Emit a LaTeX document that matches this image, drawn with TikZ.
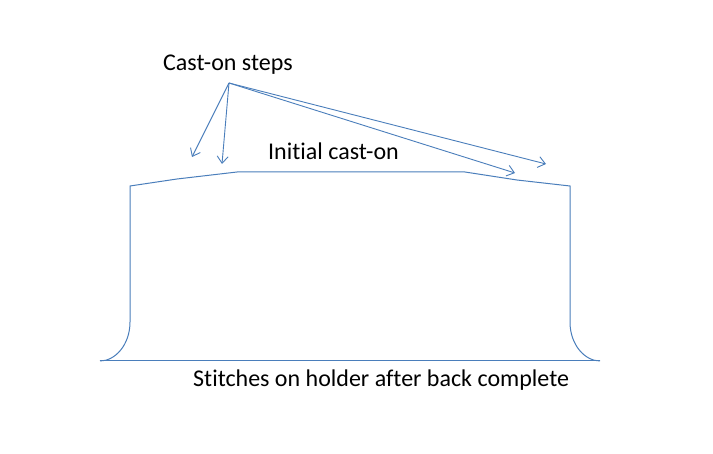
\documentclass[tikz,border=0pt]{standalone}
\usepackage{fontspec}
\setmainfont[Ligatures=NoCommon]{Carlito}
\usetikzlibrary{arrows.meta}
\definecolor{lineblue}{HTML}{4A7EBB}
\tikzset{
  outline/.style={draw=lineblue, line width=1pt, line join=miter},
  pointer/.style={draw=lineblue, line width=0.9pt, -{Straight Barb[length=7pt,width=11pt]}},
  label/.style={inner sep=0pt, anchor=base west, font=\fontsize{24}{28}\selectfont, text=black}
}
\begin{document}
\begin{tikzpicture}[x=1pt,y=-1pt]
\useasboundingbox (0,0) rectangle (713,454);
\fill[white] (0,0) rectangle (713,454);
% texts
\node[label] (steps) at (163,71) {Cast-on steps};
\node[label] (initial) at (268,160) {Initial cast-on};
\node[label] (holder) at (193,387) {Stitches on holder after back complete};
% outline
\coordinate (tl) at (130,186);
\coordinate (tr) at (570,186);
\draw[outline] (100,361) .. controls (115,361) and (130,345) .. (130,322)
  -- (tl) -- (177,179) -- (237,172) -- (465,172) -- (517,180) -- (tr)
  -- (570,322) .. controls (570,345) and (585,361) .. (600,361);
\draw[outline] (100,361) -- (600,361);
% arrows
\coordinate (src) at (229,83);
\coordinate (e1) at (192,157);
\coordinate (e2) at (222,164);
\coordinate (e3) at (515,173);
\coordinate (e4) at (546,164);
\draw[pointer] (src) -- (e1);
\draw[pointer] (src) -- (e2);
\draw[pointer] (src) -- (e3);
\draw[pointer] (src) -- (e4);
\end{tikzpicture}
\end{document}
